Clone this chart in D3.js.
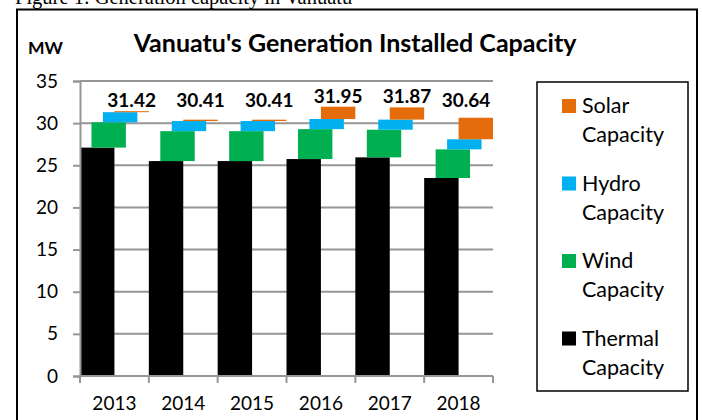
<!DOCTYPE html>
<html>
<head>
<meta charset="utf-8">
<script src="https://cdn.jsdelivr.net/npm/d3@7"></script>
<style>
  body { margin: 0; background: #fff; }
  svg { display: block; font-family: Lato, "Open Sans", sans-serif; }
</style>
</head>
<body>
<script>
// data (MW)
var years = ['2013', '2014', '2015', '2016', '2017', '2018'];
var thermal = [27.1, 25.5, 25.5, 25.74, 25.94, 23.49];
var wind = [3.0, 3.55, 3.55, 3.55, 3.28, 3.4];
var hydro = [1.2, 1.2, 1.2, 1.2, 1.2, 1.2];
var solar = [0.12, 0.16, 0.16, 1.46, 1.45, 2.55];
var totals = ['31.42', '30.41', '30.41', '31.95', '31.87', '30.64'];
var yTicks = [0, 5, 10, 15, 20, 25, 30, 35];

var seriesNames = ['Thermal Capacity', 'Wind Capacity', 'Hydro Capacity', 'Solar Capacity'];
var seriesColors = ['#000000', '#00B050', '#00B0F0', '#E46C0A'];
var seriesValues = [thermal, wind, hydro, solar];

var width = 702, height = 420;
var margin = {left: 80, right: 209, top: 81, bottom: 44};

var svg = d3.select('body').append('svg')
    .attr('width', width)
    .attr('height', height);

// caption cut off at the top of the page
svg.append('text')
    .attr('x', 15).attr('y', 4)
    .style('font-family', '"Liberation Serif", "DejaVu Serif", serif')
    .style('font-size', '20.5px')
    .text('Figure 1: Generation capacity in Vanuatu');

// outer frame
svg.append('rect')
    .attr('x', 17).attr('y', 9.5)
    .attr('width', 680).attr('height', 420)
    .attr('fill', 'none')
    .attr('stroke', '#000')
    .attr('stroke-width', 2);

var x = d3.scaleBand()
    .domain(years)
    .range([margin.left, width - margin.right]);

var y = d3.scaleLinear()
    .domain([0, 35])
    .range([height - margin.bottom, margin.top]);

// gridlines
svg.append('g').selectAll('line')
    .data(yTicks.filter(function(d) { return d > 0; }))
    .enter().append('line')
    .attr('x1', margin.left).attr('x2', width - margin.right)
    .attr('y1', function(d) { return y(d); })
    .attr('y2', function(d) { return y(d); })
    .attr('stroke', '#969696')
    .attr('stroke-width', 2);

// stacked segments, each series shifted to the right a bit
var step = x.bandwidth() / 6;
var barW = x.bandwidth() / 2;

var stacks = years.map(function(yr, i) {
  var base = 0;
  return seriesValues.map(function(vals, s) {
    var seg = {year: yr, s: s, y0: base, y1: base + vals[i]};
    base += vals[i];
    return seg;
  });
});

svg.append('g').selectAll('g')
    .data(stacks)
    .enter().append('g')
    .selectAll('rect')
    .data(function(d) { return d; })
    .enter().append('rect')
    .attr('x', function(d) { return x(d.year) + d.s * step; })
    .attr('width', barW)
    .attr('y', function(d) { return y(d.y1); })
    .attr('height', function(d) { return y(d.y0) - y(d.y1); })
    .attr('fill', function(d) { return seriesColors[d.s]; });

// axes
var yAxis = svg.append('g')
    .attr('transform', 'translate(' + margin.left + ',0)')
    .call(d3.axisLeft(y).tickValues(yTicks).tickSize(7).tickPadding(15));
var xAxis = svg.append('g')
    .attr('transform', 'translate(0,' + y(0) + ')')
    .call(d3.axisBottom(x).tickSize(0).tickPadding(21));

// category boundary ticks on the x axis
xAxis.selectAll('.bound')
    .data(years.concat(['end']))
    .enter().append('line')
    .attr('x1', function(d, i) { return margin.left + i * x.step(); })
    .attr('x2', function(d, i) { return margin.left + i * x.step(); })
    .attr('y1', 0).attr('y2', 7)
    .attr('stroke', '#969696').attr('stroke-width', 2);

[yAxis, xAxis].forEach(function(a) {
  a.selectAll('.domain').attr('stroke', '#969696').attr('stroke-width', 2);
  a.selectAll('.tick line').attr('stroke', '#969696').attr('stroke-width', 2);
  a.selectAll('.tick text')
      .style('font-family', 'Lato, "Open Sans", sans-serif')
      .style('font-size', '19px')
      .attr('fill', '#000');
});
xAxis.select('.domain').attr('d', 'M' + margin.left + ',0H' + (width - margin.right));

// total labels above each stack
svg.append('g').selectAll('text')
    .data(years)
    .enter().append('text')
    .attr('x', function(d, i) {
      var cx = x(d) + 3 * step + barW / 2;
      return Math.min(cx, width - margin.right - 27);
    })
    .attr('y', function(d, i) { return y(Math.max(+totals[i], 31.4)) - 4; })
    .attr('text-anchor', 'middle')
    .style('font-size', '19px')
    .style('font-weight', 'bold')
    .text(function(d, i) { return totals[i]; });

// title and unit
svg.append('text')
    .attr('x', 355).attr('y', 52)
    .attr('text-anchor', 'middle')
    .style('font-size', '25px')
    .style('font-weight', 'bold')
    .text("Vanuatu's Generation Installed Capacity");

svg.append('text')
    .attr('x', 28).attr('y', 54)
    .style('font-size', '17.5px')
    .style('font-weight', 'bold')
    .text('MW');

// legend
var legend = svg.append('g');
legend.append('rect')
    .attr('x', 537).attr('y', 82)
    .attr('width', 151).attr('height', 309)
    .attr('fill', '#fff')
    .attr('stroke', '#000')
    .attr('stroke-width', 1.5);

var legendOrder = [3, 2, 1, 0];
var item = legend.selectAll('.item')
    .data(legendOrder)
    .enter().append('g')
    .attr('transform', function(d, i) { return 'translate(562,' + (99 + i * 77.5) + ')'; });

item.append('rect')
    .attr('width', 14).attr('height', 14)
    .attr('fill', function(d) { return seriesColors[d]; });

item.append('text')
    .attr('x', 20).attr('y', 14)
    .style('font-size', '21.5px')
    .text(function(d) { return seriesNames[d].split(' ')[0]; });
item.append('text')
    .attr('x', 20).attr('y', 43)
    .style('font-size', '21.5px')
    .text(function(d) { return seriesNames[d].split(' ')[1]; });
</script>
</body>
</html>
